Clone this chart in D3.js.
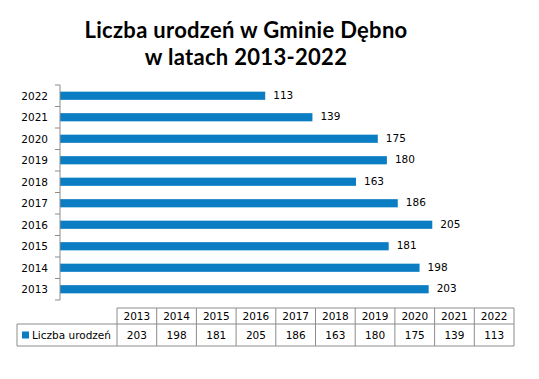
<!DOCTYPE html>
<html><head><meta charset="utf-8">
<script src="https://cdn.jsdelivr.net/npm/d3@7"></script>
<style>body{margin:0;background:#fff}svg{display:block}</style>
</head><body>
<script>
const years = ["2013","2014","2015","2016","2017","2018","2019","2020","2021","2022"];
const values = [203,198,181,205,186,163,180,175,139,113];
const seriesName = "Liczba urodzeń";
const titleLines = ["Liczba urodzeń w Gminie Dębno","w latach 2013-2022"];

(function(){
const W=539,H=379;
const svg=d3.select("body").append("svg").attr("width",W).attr("height",H);
const color="#0b7dc3", grid="#8c8c8c";
const pl=60, pr=514, pt=85, pb=300;

const x=d3.scaleLinear().domain([0,250]).range([pl,pr]);
const y=d3.scaleBand().domain(years.slice().reverse()).range([pt,pb]).paddingInner(0.62).paddingOuter(0.31);
const yb=d3.scaleBand().domain(years.slice().reverse()).range([pt,pb]);

// title
svg.append("g").selectAll("text").data(titleLines).join("text")
  .attr("x",246).attr("y",(d,i)=>38+i*27).attr("text-anchor","middle")
  .attr("font-family","Lato, 'Open Sans', sans-serif").attr("font-weight","bold")
  .attr("font-size",22).attr("letter-spacing",0.3).attr("fill","#000").text(d=>d);

// bars
svg.append("g").selectAll("rect").data(years).join("rect")
  .attr("x",x(0)).attr("y",d=>y(d)).attr("height",y.bandwidth())
  .attr("width",(d,i)=>x(values[i])-x(0)).attr("fill",color);

// value labels
svg.append("g").selectAll("text").data(years).join("text")
  .attr("x",(d,i)=>x(values[i])+8).attr("y",d=>y(d)+y.bandwidth()/2-1)
  .attr("dominant-baseline","central")
  .attr("font-family","'DejaVu Sans', Verdana, sans-serif").attr("font-size",10.5)
  .attr("fill","#000").text((d,i)=>values[i]);

// y axis
const ax=svg.append("g").attr("transform",`translate(${pl},0)`);
ax.append("line").attr("x1",0).attr("x2",0).attr("y1",pt).attr("y2",pb).attr("stroke",grid);
const tickYs=years.map(d=>yb(d)).concat([pb]);
ax.selectAll("line.t").data(tickYs).join("line").attr("class","t")
  .attr("x1",-5).attr("x2",0).attr("y1",d=>d).attr("y2",d=>d).attr("stroke",grid);
ax.selectAll("text").data(years).join("text")
  .attr("x",-12).attr("y",d=>yb(d)+yb.bandwidth()/2).attr("dominant-baseline","central")
  .attr("text-anchor","end").attr("font-family","'DejaVu Sans', Verdana, sans-serif")
  .attr("font-size",10.5).attr("fill","#000").text(d=>d);

// data table
const tx=d3.scaleBand().domain(years).range([117,pr]);
const r0=308,r1=324,r2=346, tleft=17;
const tg=svg.append("g").attr("stroke",grid).attr("fill","none");
tg.append("line").attr("x1",117).attr("x2",pr).attr("y1",r0).attr("y2",r0);
tg.append("line").attr("x1",tleft).attr("x2",pr).attr("y1",r1).attr("y2",r1);
tg.append("line").attr("x1",tleft).attr("x2",pr).attr("y1",r2).attr("y2",r2);
tg.append("line").attr("x1",tleft).attr("x2",tleft).attr("y1",r1).attr("y2",r2);
tg.selectAll("line.v").data(years.map(d=>tx(d)).concat([pr])).join("line").attr("class","v")
  .attr("x1",d=>d).attr("x2",d=>d).attr("y1",r0).attr("y2",r2);
const tt=svg.append("g").attr("font-family","'DejaVu Sans', Verdana, sans-serif").attr("font-size",10.5).attr("fill","#000").attr("text-anchor","middle");
tt.selectAll("text.h").data(years).join("text").attr("class","h")
  .attr("x",d=>tx(d)+tx.bandwidth()/2).attr("y",(r0+r1)/2).attr("dominant-baseline","central").text(d=>d);
tt.selectAll("text.v").data(years).join("text").attr("class","v")
  .attr("x",d=>tx(d)+tx.bandwidth()/2).attr("y",(r1+r2)/2).attr("dominant-baseline","central").text((d,i)=>values[i]);
svg.append("rect").attr("x",22).attr("y",(r1+r2)/2-3.5).attr("width",7).attr("height",7).attr("fill",color);
svg.append("text").attr("x",32).attr("y",(r1+r2)/2).attr("dominant-baseline","central")
  .attr("font-family","'DejaVu Sans', Verdana, sans-serif").attr("font-size",10.5).attr("fill","#000").text(seriesName);
})();
</script>
</body></html>
